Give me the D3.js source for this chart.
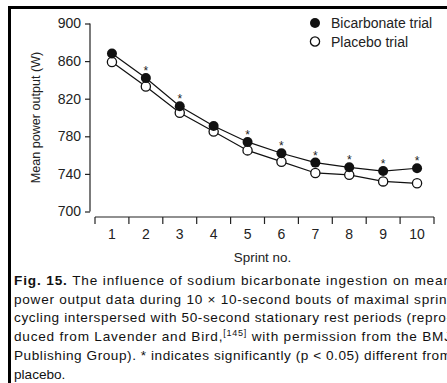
<!DOCTYPE html>
<html>
<head>
<meta charset="utf-8">
<script src="https://cdn.jsdelivr.net/npm/d3@7"></script>
<style>
  body { margin: 0; background: #fff; }
  svg { display: block; font-family: "Liberation Sans", Arial, sans-serif; }
  .axis text { font-size: 14px; fill: #222; }
  .axis path, .axis line { stroke: #222; stroke-width: 1.2; }
</style>
</head>
<body>
<div id="graph"></div>
<script>
// data
var sprints = [1, 2, 3, 4, 5, 6, 7, 8, 9, 10];
var bicarbonate = [868, 842, 812, 791, 774, 762, 752, 747, 743, 746];
var placebo = [859, 833, 805, 785, 765, 753, 741, 739, 732, 730];
var significant = [false, true, true, false, true, true, true, true, true, true];
var yTicks = [700, 740, 780, 820, 860, 900];
var seriesNames = ["Bicarbonate trial", "Placebo trial"];
var captionLines = [
  [["Fig. 15.", "bold"], [" The influence of sodium bicarbonate ingestion on mean"]],
  [["power output data during 10 \u00d7 10-second bouts of maximal sprint"]],
  [["cycling interspersed with 50-second stationary rest periods (repro-"]],
  [["duced from Lavender and Bird,"], ["[145]", "sup"], [" with permission from the BMJ", "down"]],
  [["Publishing Group). * indicates significantly (p < 0.05) different from"]],
  [["placebo."]]
];

var svgWidth = 447, svgHeight = 383;

var svg = d3.select('#graph').append('svg')
  .attr('width', svgWidth)
  .attr('height', svgHeight);

svg.append('rect').attr('width', svgWidth).attr('height', svgHeight).attr('fill', '#fff');

// frame (top and left rule)
svg.append('path')
  .attr('d', 'M9.5,' + svgHeight + 'V7.5H' + svgWidth)
  .attr('fill', 'none')
  .attr('stroke', '#000')
  .attr('stroke-width', 3);

var x = d3.scaleBand()
  .domain(sprints)
  .range([95, 434]);

var y = d3.scaleLinear()
  .domain([700, 900])
  .range([211.5, 23.5]);

// y axis
var yAxis = svg.append('g')
  .attr('class', 'axis')
  .attr('transform', 'translate(90,0)')
  .call(d3.axisLeft(y).tickValues(yTicks).tickSize(5).tickSizeOuter(0).tickPadding(4));
yAxis.select('.domain').attr('d', 'M0,' + y(900) + 'V' + y(700));

svg.append('text')
  .attr('transform', 'translate(39.5,' + ((y(900) + y(700)) / 2) + ') rotate(-90)')
  .attr('text-anchor', 'middle')
  .style('font-size', '12.6px')
  .attr('fill', '#222')
  .text('Mean power output (W)');

// x axis: ticks at band edges, labels at band centres
var xg = svg.append('g')
  .attr('class', 'axis')
  .attr('transform', 'translate(0,217)');
xg.append('path')
  .attr('d', 'M' + x.range()[0] + ',0H' + x.range()[1]);
var edges = sprints.map(function(d) { return x(d); }).concat([x.range()[1]]);
xg.selectAll('line.edge')
  .data(edges)
  .enter().append('line')
  .attr('class', 'edge')
  .attr('x1', function(d) { return d; })
  .attr('x2', function(d) { return d; })
  .attr('y1', 0)
  .attr('y2', 7);
xg.selectAll('text.lab')
  .data(sprints)
  .enter().append('text')
  .attr('class', 'lab')
  .attr('x', function(d) { return x(d) + x.bandwidth() / 2; })
  .attr('y', 21.5)
  .attr('text-anchor', 'middle')
  .text(function(d) { return d; });

svg.append('text')
  .attr('x', (x.range()[0] + x.range()[1]) / 2 - 2)
  .attr('y', 261.5)
  .attr('text-anchor', 'middle')
  .style('font-size', '13.4px')
  .attr('fill', '#222')
  .text('Sprint no.');

function cx(i) { return x(sprints[i]) + x.bandwidth() / 2; }

var line = d3.line()
  .x(function(d, i) { return cx(i); })
  .y(function(d) { return y(d); });

[bicarbonate, placebo].forEach(function(series) {
  svg.append('path')
    .datum(series)
    .attr('fill', 'none')
    .attr('stroke', '#111')
    .attr('stroke-width', 1.2)
    .attr('d', line);
});

svg.selectAll('circle.pl')
  .data(placebo)
  .enter().append('circle')
  .attr('class', 'pl')
  .attr('cx', function(d, i) { return cx(i); })
  .attr('cy', function(d) { return y(d); })
  .attr('r', 4.6)
  .attr('fill', '#fff')
  .attr('stroke', '#111')
  .attr('stroke-width', 1.3);

svg.selectAll('circle.bi')
  .data(bicarbonate)
  .enter().append('circle')
  .attr('class', 'bi')
  .attr('cx', function(d, i) { return cx(i); })
  .attr('cy', function(d) { return y(d); })
  .attr('r', 5)
  .attr('fill', '#111');

// significance stars above the bicarbonate points
var stars = sprints.map(function(s, i) { return i; })
  .filter(function(i) { return significant[i]; });
svg.selectAll('text.star')
  .data(stars)
  .enter().append('text')
  .attr('class', 'star')
  .attr('x', function(i) { return cx(i); })
  .attr('y', function(i) { return y(bicarbonate[i]) - 3; })
  .attr('text-anchor', 'middle')
  .style('font-size', '12px')
  .attr('fill', '#222')
  .text('*');

// legend
var legend = svg.append('g').attr('transform', 'translate(315,23)');
seriesNames.forEach(function(name, i) {
  var row = legend.append('g').attr('transform', 'translate(0,' + (i * 18.5) + ')');
  row.append('circle')
    .attr('r', i === 0 ? 5 : 4.6)
    .attr('fill', i === 0 ? '#111' : '#fff')
    .attr('stroke', '#111')
    .attr('stroke-width', i === 0 ? 0 : 1.3);
  row.append('text')
    .attr('x', 16)
    .attr('dy', '0.36em')
    .style('font-size', '14px')
    .attr('fill', '#222')
    .text(name);
});

// caption, justified lines running off the right edge like the scan
captionLines.forEach(function(parts, i) {
  var t = svg.append('text')
    .attr('x', 14)
    .attr('y', 285 + i * 18.7)
    .style('font-size', '13.6px')
    .attr('fill', '#111');
  parts.forEach(function(p) {
    var ts = t.append('tspan').text(p[0]);
    if (p[1] === 'bold') ts.style('font-weight', 'bold');
    if (p[1] === 'sup') ts.style('font-size', '9px').attr('dy', '-5');
    if (p[1] === 'down') ts.attr('dy', '5');
  });
  if (i < captionLines.length - 1) {
    t.attr('textLength', 437).attr('lengthAdjust', 'spacing');
  }
});
</script>
</body>
</html>
